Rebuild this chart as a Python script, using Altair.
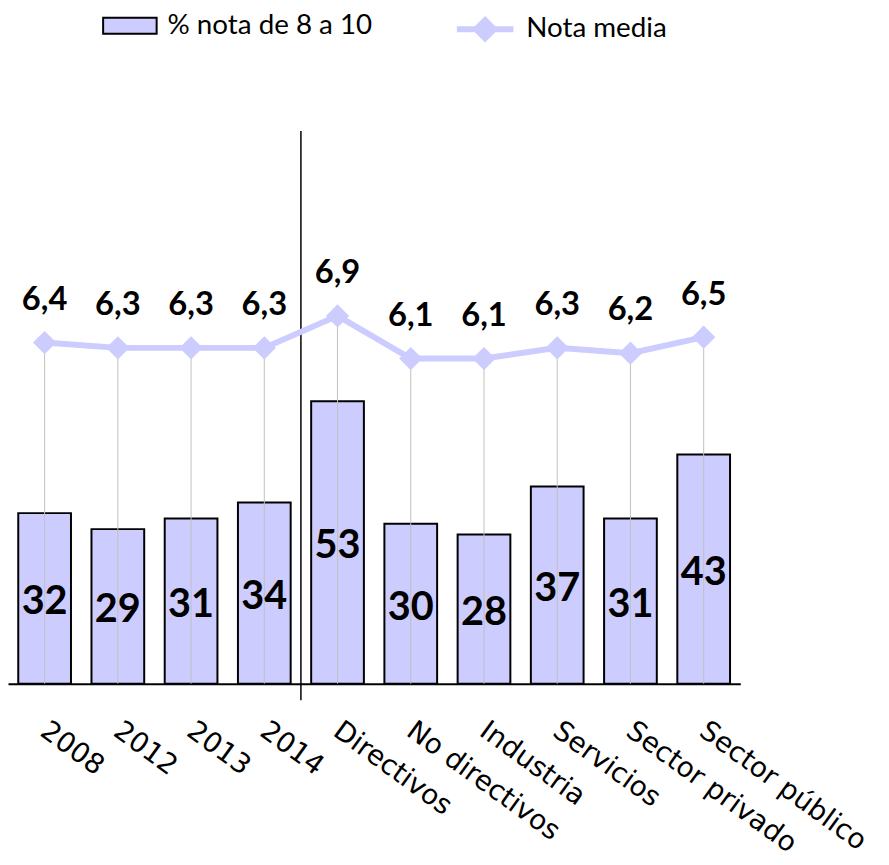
import altair as alt
import pandas as pd

categories = ["2008", "2012", "2013", "2014", "Directivos", "No directivos",
              "Industria", "Servicios", "Sector privado", "Sector público"]
pct_8_10 = [32, 29, 31, 34, 53, 30, 28, 37, 31, 43]
nota_media = [6.4, 6.3, 6.3, 6.3, 6.9, 6.1, 6.1, 6.3, 6.2, 6.5]
series_names = ["% nota de 8 a 10", "Nota media"]
separator_after = ["2014"]

df = pd.DataFrame({
    "cat": categories,
    "pct": pct_8_10,
    "nota": nota_media,
    "s1": [series_names[0]] * len(categories),
    "s2": [series_names[1]] * len(categories),
})
df["nota10"] = df["nota"] * 10
df["mid"] = df["pct"] / 2
df["nota_lbl"] = [f"{v:.1f}".replace(".", ",") for v in nota_media]
sep_df = pd.DataFrame({"cat": separator_after, "top": [103.7], "bottom": [-3.1]})

FILL = "#ccccff"
CAL = "Lato"

xscale = alt.Scale(paddingInner=0, paddingOuter=0)
x_axis = alt.Axis(title=None, labelAngle=36, labelAlign="left", labelBaseline="top",
                  labelFont="DejaVu Sans", labelFontSize=28, labelColor="black",
                  labelPadding=33, ticks=False, domainColor="black",
                  domainWidth=2, labelOffset=7, grid=False, labelLimit=400)
X = alt.X("cat:N", sort=categories, scale=xscale, axis=x_axis)
yscale = alt.Scale(domain=[0, 100], nice=False, zero=True)

base = alt.Chart(df)

bars = base.mark_bar(width=alt.RelativeBandSize(0.72), stroke="black", strokeWidth=2).encode(
    x=X,
    y=alt.Y("pct:Q", scale=yscale, axis=None),
    fill=alt.Fill("s1:N", scale=alt.Scale(range=[FILL]),
                  legend=alt.Legend(title=None, orient="none", legendX=95, legendY=-154,
                                    symbolType="M-1,-0.3L1,-0.3L1,0.3L-1,0.3Z",
                                    symbolSize=2916, symbolStrokeColor="black",
                                    symbolStrokeWidth=2, symbolFillColor=FILL,
                                    labelFont=CAL, labelFontSize=28, labelColor="black",
                                    labelOffset=10, padding=0, labelLimit=400)),
)

drops = base.mark_rule(color="#c0c0c0", strokeWidth=1).encode(
    x=X,
    y=alt.Y("nota10:Q", axis=None),
    y2=alt.datum(0),
)

sep = alt.Chart(sep_df).mark_rule(color="black", strokeWidth=1.5).encode(
    x=alt.X("cat:N", sort=categories, scale=xscale, axis=x_axis, bandPosition=1),
    y=alt.Y("top:Q", axis=None),
    y2="bottom:Q",
)

line = base.mark_line(strokeWidth=6).encode(
    x=X,
    y=alt.Y("nota10:Q", axis=None),
    stroke=alt.Stroke("s2:N", scale=alt.Scale(range=[FILL]),
                      legend=alt.Legend(title=None, orient="none", legendX=450, legendY=-154,
                                        symbolType="M-1,0L1,0M-0.32,0L0,-0.32L0.32,0L0,0.32Z",
                                        symbolSize=3249, symbolStrokeWidth=6,
                                        symbolFillColor=FILL, symbolStrokeColor=FILL,
                                        labelFont=CAL, labelFontSize=28, labelColor="black",
                                        labelOffset=10, padding=0, labelLimit=400)),
)

points = base.mark_point(shape="diamond", filled=True, size=550, color=FILL, opacity=1).encode(
    x=X,
    y=alt.Y("nota10:Q", axis=None),
)

bar_text = base.mark_text(font=CAL, fontWeight="bold", fontSize=40, baseline="middle",
                          dy=4, color="black").encode(
    x=X,
    y=alt.Y("mid:Q", axis=None),
    text=alt.Text("pct:Q"),
)

line_text = base.mark_text(font=CAL, fontWeight="bold", fontSize=33, baseline="alphabetic",
                           dy=-33, color="black").encode(
    x=X,
    y=alt.Y("nota10:Q", axis=None),
    text=alt.Text("nota_lbl:N"),
)

chart = alt.layer(bars, drops, sep, line, points, bar_text, line_text).properties(
    width=739, height=538,
    padding={"left": 0, "top": 140, "right": 142, "bottom": 177},
    autosize=alt.AutoSizeParams(type="none"),
).configure_view(stroke=None)

chart.save("out.html", embed_options={"renderer": "svg", "actions": False})
